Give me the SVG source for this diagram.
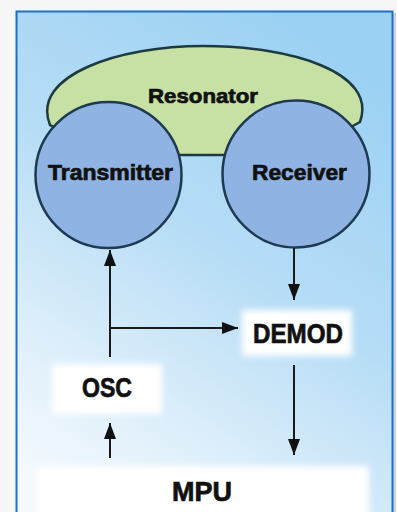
<svg xmlns="http://www.w3.org/2000/svg" width="397" height="512" viewBox="0 0 397 512">
<defs>
<linearGradient id="bg" x1="0.7" y1="0" x2="0.2" y2="1">
<stop offset="0" stop-color="#9bd1f3"/>
<stop offset="0.45" stop-color="#b7ddf6"/>
<stop offset="0.8" stop-color="#e0f0fb"/>
<stop offset="1" stop-color="#f3f9fd"/>
</linearGradient>
<filter id="soft" x="-20%" y="-40%" width="140%" height="180%">
<feGaussianBlur stdDeviation="3"/>
</filter>
<marker id="ahead" viewBox="0 0 16 12" refX="16" refY="6" markerWidth="16" markerHeight="12" markerUnits="userSpaceOnUse" orient="auto">
<path d="M0,0 L16,6 L0,12 Z" fill="#111"/>
</marker>
<style>
.lbl{font-family:"Liberation Sans",Arial,sans-serif;font-weight:bold;fill:#111;stroke:#111;stroke-width:0.7;text-anchor:middle}
.conn{stroke:#1a1a1a;stroke-width:2;fill:none}
.circ{fill:#8fb3e2;stroke:#1d3a50;stroke-width:2.5}
.box{fill:#ffffff;filter:url(#soft)}
</style>
</defs>
<rect x="0" y="0" width="397" height="512" fill="#f7f7f7"/>
<rect x="19" y="13" width="377" height="499" fill="#b0b0b0" opacity="0.5"/>
<rect x="16.5" y="11.5" width="376" height="502" fill="url(#bg)" stroke="#1f6fc6" stroke-width="2"/>

<g id="resonator">
<path d="M50,125 C30,75 120,46 203,46 C290,46 378,72 360,122 L300,155 L110,155 Z" fill="#c6e1a3" stroke="#1d3a40" stroke-width="2.5"/>
<text class="lbl" x="203" y="103" font-size="20" textLength="110" lengthAdjust="spacingAndGlyphs">Resonator</text>
</g>
<g id="transmitter">
<circle class="circ" cx="108.5" cy="175" r="73"/>
<text class="lbl" x="110.5" y="180" font-size="22" textLength="125" lengthAdjust="spacingAndGlyphs">Transmitter</text>
</g>
<g id="receiver">
<circle class="circ" cx="296" cy="174" r="73.5"/>
<text class="lbl" x="299.5" y="180" font-size="22" textLength="95" lengthAdjust="spacingAndGlyphs">Receiver</text>
</g>
<g id="demod">
<rect class="box" x="242" y="310" width="110" height="46"/>
<text class="lbl" x="298" y="343" font-size="27" textLength="90" lengthAdjust="spacingAndGlyphs">DEMOD</text>
</g>
<g id="osc">
<rect class="box" x="52" y="364" width="110" height="50"/>
<text class="lbl" x="107" y="397" font-size="27" textLength="50" lengthAdjust="spacingAndGlyphs">OSC</text>
</g>
<g id="mpu">
<rect class="box" x="37" y="466" width="332" height="60"/>
<text class="lbl" x="202" y="501" font-size="28" textLength="60" lengthAdjust="spacingAndGlyphs">MPU</text>
</g>
<g id="connectors">
<line class="conn" x1="110" y1="357" x2="110" y2="250" marker-end="url(#ahead)"/>
<line class="conn" x1="110" y1="328" x2="238" y2="328" marker-end="url(#ahead)"/>
<line class="conn" x1="294" y1="248" x2="294" y2="300" marker-end="url(#ahead)"/>
<line class="conn" x1="294" y1="365" x2="294" y2="455" marker-end="url(#ahead)"/>
<line class="conn" x1="110" y1="458" x2="110" y2="423" marker-end="url(#ahead)"/>
</g>
</svg>
